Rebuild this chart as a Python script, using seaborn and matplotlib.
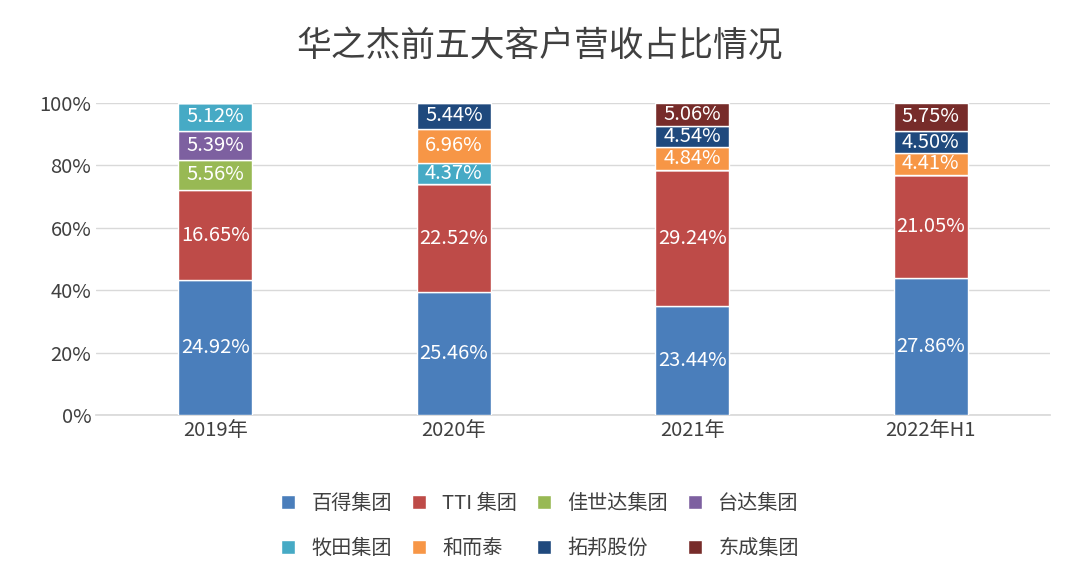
import numpy as np
import matplotlib
matplotlib.use("Agg")
import matplotlib.pyplot as plt
import seaborn as sns

years = ["2019年", "2020年", "2021年", "2022年H1"]
customers = ["百得集团", "TTI 集团", "佳世达集团", "台达集团", "牧田集团", "和而泰", "拓邦股份", "东成集团"]
# share of revenue per customer (0 = not in top five that year)
baide = [24.92, 25.46, 23.44, 27.86]
tti = [16.65, 22.52, 29.24, 21.05]
jiashida = [5.56, 0, 0, 0]
taida = [5.39, 0, 0, 0]
mutian = [5.12, 4.37, 0, 0]
heertai = [0, 6.96, 4.84, 4.41]
tuobang = [0, 5.44, 4.54, 4.50]
dongcheng = [0, 0, 5.06, 5.75]
colors = ["#4A7EBB", "#BE4B48", "#98B954", "#7D60A0", "#46AAC5", "#F79646", "#1F497D", "#772C2A"]

sns.set_theme(style="white")
plt.rcParams["font.family"] = ["Noto Sans CJK SC", "DejaVu Sans"]

series = np.array([baide, tti, jiashida, taida, mutian, heertai, tuobang, dongcheng], dtype=float)
shares = series / series.sum(axis=0) * 100

fig = plt.figure(figsize=(10.8, 5.84), dpi=100)
ax = fig.add_axes([0.089, 0.289, 0.883, 0.535])
x = np.arange(len(years))
bottom = np.zeros(len(years))
handles = []
for i, name in enumerate(customers):
    h = ax.bar(x, shares[i], 0.31, bottom=bottom, color=colors[i], label=name, zorder=3)
    handles.append(h)
    for j in range(len(years)):
        if series[i, j] > 0:
            ax.text(x[j], bottom[j] + shares[i, j] / 2, f"{series[i, j]:.2f}%",
                    ha="center", va="center", color="white", fontsize=14.5, zorder=4)
    bottom += shares[i]

ax.set_ylim(0, 100)
ax.set_xlim(-0.5, 3.5)
ax.set_yticks(range(0, 101, 20))
ax.set_yticklabels([f"{v}%" for v in range(0, 101, 20)], fontsize=14.5, color="#404040")
ax.set_xticks(x)
ax.set_xticklabels(years, fontsize=14.5, color="#404040")
ax.yaxis.grid(True, color="#D9D9D9", zorder=0)
for s in ["top", "right", "left"]:
    ax.spines[s].set_visible(False)
ax.spines["bottom"].set_color("#D9D9D9")
ax.tick_params(axis="both", length=0)

fig.suptitle("华之杰前五大客户营收占比情况", fontsize=25, color="#404040", y=0.95)
order = [0, 4, 1, 5, 2, 6, 3, 7]
fig.legend([handles[k] for k in order], [customers[k] for k in order],
           loc="lower center", bbox_to_anchor=(0.5, 0.012), ncol=4, frameon=False,
           fontsize=14.5, handlelength=0.7, handleheight=0.7, columnspacing=1.0,
           labelspacing=1.2, labelcolor="#404040")
fig.savefig("out.png", dpi=100)
